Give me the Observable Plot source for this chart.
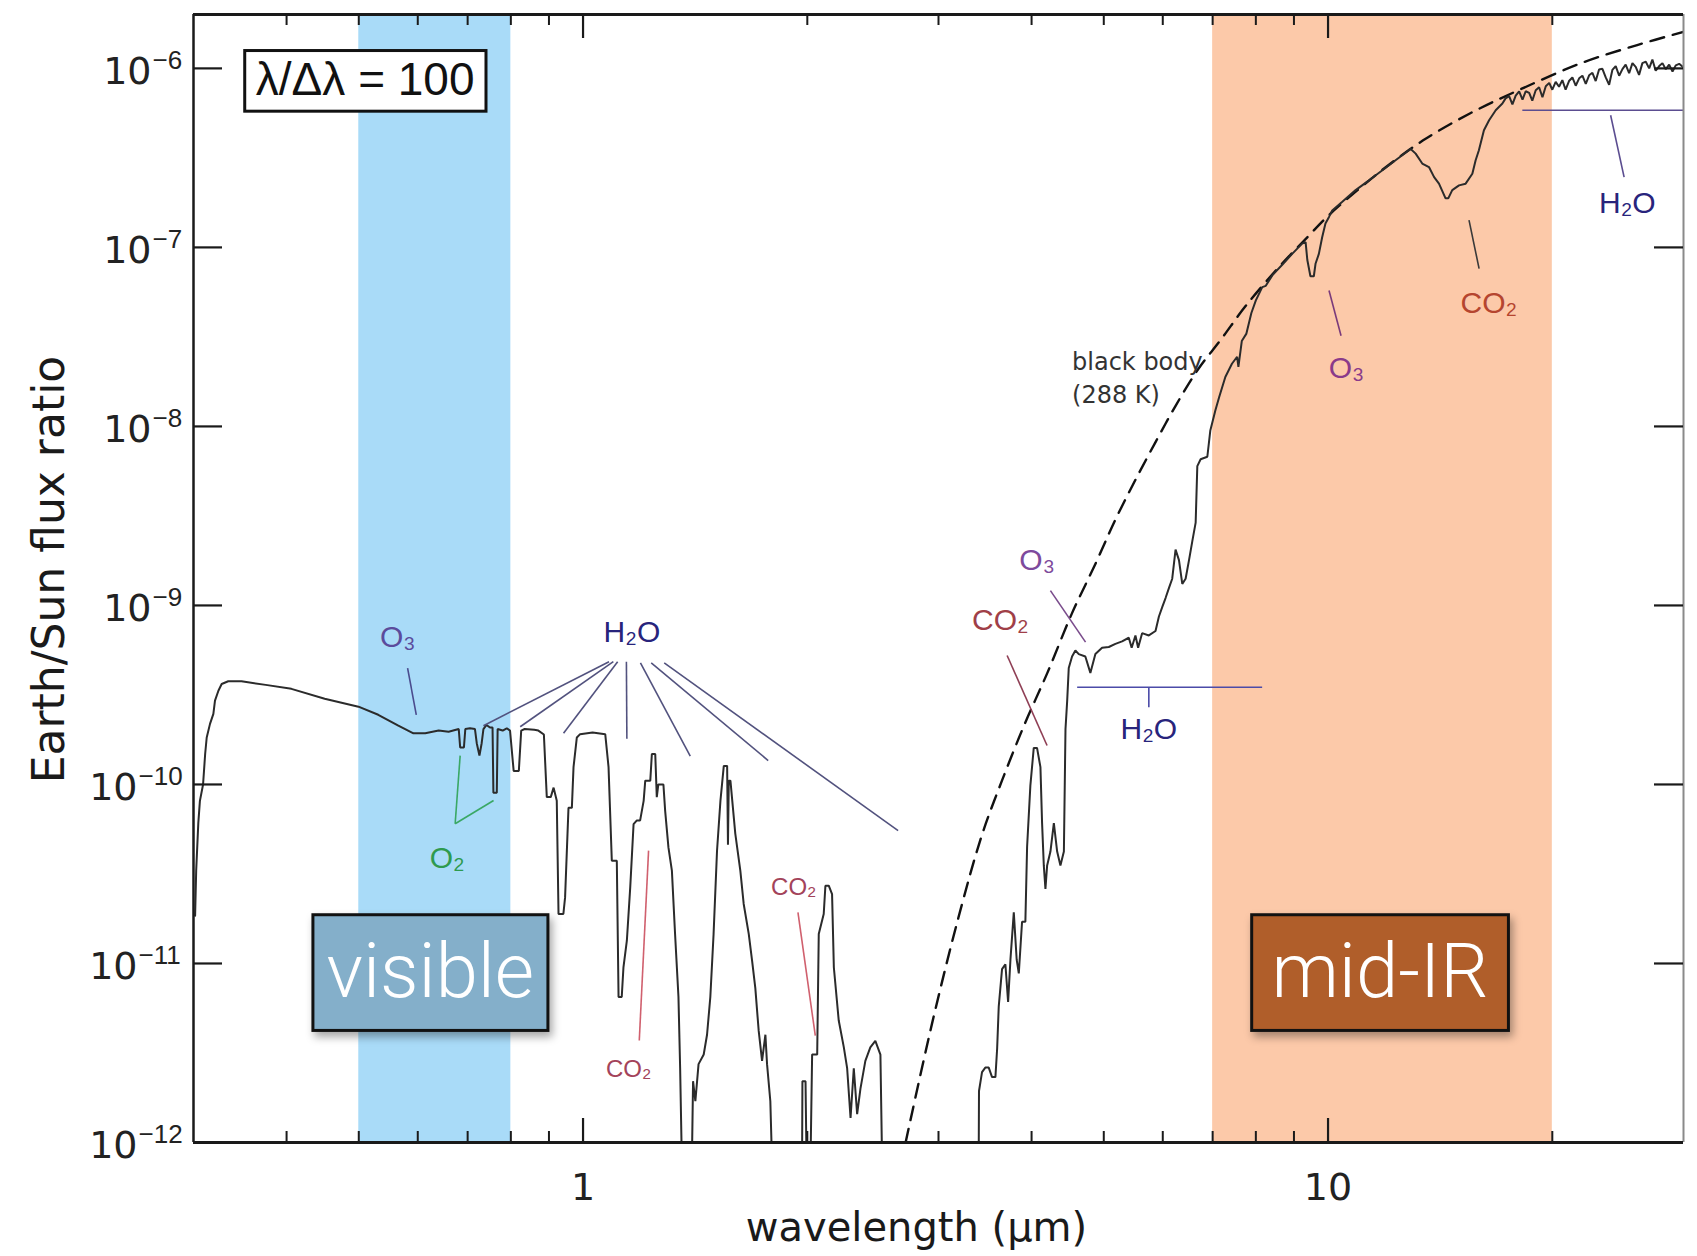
<!DOCTYPE html>
<html>
<head>
<meta charset="utf-8">
<script src="https://cdn.jsdelivr.net/npm/d3@7"></script>
<script src="https://cdn.jsdelivr.net/npm/@observablehq/plot@0.6"></script>
<style>
  html, body { margin: 0; padding: 0; background: #ffffff; }
  #chart svg { display: block; }
</style>
</head>
<body>
<div id="chart"></div>
<script>
// ---------------- DATA ----------------
// Earth/Sun flux ratio spectrum at λ/Δλ = 100 : [wavelength (µm), ratio]
const spectrum = [
  [0.3015,1.85e-11],[0.3025,3.3e-11],[0.3045,6.1e-11],[0.306,8.1e-11],[0.309,1.0e-10],[0.311,1.48e-10],
  [0.3125,1.83e-10],[0.3157,2.18e-10],[0.319,2.48e-10],[0.3206,2.94e-10],[0.324,3.34e-10],[0.3273,3.64e-10],
  [0.334,3.77e-10],[0.348,3.77e-10],[0.375,3.6e-10],[0.406,3.42e-10],[0.450,3.01e-10],[0.4995,2.72e-10],
  [0.531,2.45e-10],[0.565,2.13e-10],[0.592,1.93e-10],[0.614,1.93e-10],[0.640,2.0e-10],[0.660,1.97e-10],
  [0.681,2.04e-10],[0.684,1.61e-10],[0.692,1.61e-10],[0.695,2.04e-10],[0.705,2.06e-10],[0.716,2.04e-10],
  [0.720,1.7e-10],[0.726,1.45e-10],[0.731,1.7e-10],[0.735,2.04e-10],[0.742,2.15e-10],[0.750,2.08e-10],
  [0.756,2.08e-10],[0.758,9.0e-11],[0.766,9.0e-11],[0.768,2.04e-10],[0.780,2.0e-10],[0.790,2.06e-10],
  [0.798,2.0e-10],[0.807,1.19e-10],[0.820,1.19e-10],[0.826,2.0e-10],[0.835,2.04e-10],[0.860,2.02e-10],
  [0.871,2.0e-10],[0.886,1.9e-10],[0.894,8.5e-11],[0.905,8.5e-11],[0.913,9.6e-11],[0.922,8.1e-11],
  [0.927,1.89e-11],[0.941,1.89e-11],[0.946,2.34e-11],[0.956,7.4e-11],[0.966,7.4e-11],[0.971,1.25e-10],
  [0.981,1.83e-10],[0.991,1.91e-10],[1.030,1.95e-10],[1.071,1.91e-10],[1.082,1.25e-10],[1.093,3.75e-11],
  [1.110,3.75e-11],[1.116,6.5e-12],[1.127,6.5e-12],[1.133,9.5e-12],[1.145,1.34e-11],[1.157,2.66e-11],
  [1.169,6.0e-11],[1.181,6.3e-11],[1.193,6.3e-11],[1.206,8.1e-11],[1.212,1.05e-10],[1.231,1.05e-10],
  [1.237,1.48e-10],[1.250,1.48e-10],[1.256,8.5e-11],[1.262,1.0e-10],[1.282,1.0e-10],[1.289,7.1e-11],
  [1.302,4.45e-11],[1.316,3.3e-11],[1.329,1.46e-11],[1.343,6.5e-12],[1.350,2.6e-12],[1.357,8e-13],
  [1.400,8e-13],[1.405,2.2e-12],[1.415,1.7e-12],[1.429,2.74e-12],[1.452,3.1e-12],[1.467,4.0e-12],
  [1.482,6.5e-12],[1.497,1.46e-11],[1.513,4.26e-11],[1.529,8.1e-11],[1.545,1.27e-10],[1.561,1.27e-10],
  [1.565,4.6e-11],[1.569,1.05e-10],[1.577,1.05e-10],[1.601,5.3e-11],[1.626,3.3e-11],[1.643,2.15e-11],
  [1.669,1.46e-11],[1.686,1.04e-11],[1.703,7.3e-12],[1.721,4.2e-12],[1.739,2.86e-12],[1.757,4.0e-12],
  [1.766,2.74e-12],[1.784,1.7e-12],[1.793,8e-13],[1.968,8e-13],[1.970,2.2e-12],[1.989,2.2e-12],
  [1.995,8e-13],[2.020,8e-13],[2.030,3.1e-12],[2.062,3.1e-12],[2.072,1.46e-11],[2.104,1.89e-11],
  [2.115,2.72e-11],[2.137,2.72e-11],[2.159,2.44e-11],[2.171,9.5e-12],[2.204,4.8e-12],[2.239,3.4e-12],
  [2.262,2.6e-12],[2.286,1.37e-12],[2.309,2.6e-12],[2.333,1.44e-12],[2.357,2.0e-12],[2.393,2.86e-12],
  [2.430,3.4e-12],[2.468,3.7e-12],[2.507,3.1e-12],[2.520,8e-13],[3.397,8e-13],[3.400,1.94e-12],
  [3.432,2.47e-12],[3.467,2.62e-12],[3.504,2.62e-12],[3.540,2.32e-12],[3.577,2.32e-12],[3.596,3.34e-12],
  [3.614,5.76e-12],[3.651,9.3e-12],[3.689,9.9e-12],[3.720,6.1e-12],[3.747,1.05e-11],[3.786,1.93e-11],
  [3.820,1.05e-11],[3.845,8.8e-12],[3.884,1.71e-11],[3.924,1.71e-11],[3.945,4.49e-11],[3.985,9.85e-11],
  [4.027,1.60e-10],[4.068,1.60e-10],[4.111,1.25e-10],[4.132,6.08e-11],[4.154,3.53e-11],[4.175,2.61e-11],
  [4.197,3.53e-11],[4.240,4.22e-11],[4.285,6.08e-11],[4.329,4.22e-11],[4.373,3.53e-11],[4.420,4.22e-11],
  [4.442,2.04e-10],[4.465,2.92e-10],[4.487,4.47e-10],[4.533,5.19e-10],[4.580,5.6e-10],[4.628,5.35e-10],
  [4.723,5.19e-10],[4.797,4.2e-10],[4.872,5.35e-10],[4.974,5.8e-10],[5.078,5.86e-10],[5.183,6.1e-10],
  [5.291,6.3e-10],[5.402,6.6e-10],[5.450,5.8e-10],[5.514,6.8e-10],[5.560,5.8e-10],[5.629,7.0e-10],
  [5.747,6.8e-10],[5.867,7.2e-10],[5.929,8.67e-10],[5.990,9.78e-10],[6.052,1.10e-9],[6.115,1.25e-9],
  [6.178,1.41e-9],[6.242,2.05e-9],[6.308,1.79e-9],[6.373,1.32e-9],[6.439,1.41e-9],[6.507,1.79e-9],
  [6.573,2.28e-9],[6.642,2.9e-9],[6.676,6.0e-9],[6.745,6.56e-9],[6.886,6.77e-9],[6.950,9.5e-9],
  [7.060,1.23e-8],[7.140,1.45e-8],[7.280,1.89e-8],[7.430,2.24e-8],[7.550,2.45e-8],[7.580,2.15e-8],
  [7.660,3.0e-8],[7.770,3.3e-8],[7.890,4.3e-8],[8.000,5.06e-8],[8.160,6.0e-8],[8.250,6.1e-8],
  [8.420,7.0e-8],[8.680,8.0e-8],[8.950,9.2e-8],[9.230,1.05e-7],[9.330,1.07e-7],[9.380,8.5e-8],
  [9.470,6.9e-8],[9.570,6.9e-8],[9.620,8.1e-8],[9.720,9.2e-8],[9.820,1.14e-7],[9.920,1.36e-7],
  [10.03,1.48e-7],[10.13,1.61e-7],[10.45,1.80e-7],[10.89,2.09e-7],[11.35,2.37e-7],[11.83,2.70e-7],
  [12.32,3.07e-7],[12.84,3.49e-7],[12.90,3.56e-7],[13.11,3.34e-7],[13.38,2.94e-7],[13.66,2.81e-7],
  [13.88,2.47e-7],[14.09,2.27e-7],[14.38,1.88e-7],[14.50,1.88e-7],[14.68,2.09e-7],[14.99,2.22e-7],
  [15.30,2.27e-7],[15.62,2.58e-7],[15.78,3.07e-7],[15.94,3.49e-7],[16.19,4.51e-7],[16.45,5.13e-7],
  [16.79,5.84e-7],[17.14,6.36e-7],[17.31,6.80e-7],[17.50,7.00e-7],[17.68,6.30e-7],[17.86,7.05e-7],
  [18.05,7.45e-7],[18.24,6.70e-7],[18.42,7.45e-7],[18.62,7.30e-7],[18.80,6.60e-7],[19.00,7.55e-7],
  [19.20,7.85e-7],[19.40,6.90e-7],[19.60,7.95e-7],[19.81,8.30e-7],[20.00,7.60e-7],[20.21,8.40e-7],
  [20.42,7.90e-7],[20.63,8.60e-7],[20.84,7.60e-7],[21.06,8.50e-7],[21.28,8.90e-7],[21.50,8.00e-7],
  [21.73,8.80e-7],[21.95,9.10e-7],[22.18,8.20e-7],[22.41,9.15e-7],[22.64,9.45e-7],[22.87,8.50e-7],
  [23.11,9.85e-7],[23.35,9.95e-7],[23.59,8.90e-7],[23.84,8.10e-7],[24.08,9.80e-7],[24.33,1.03e-6],
  [24.59,9.10e-7],[24.84,9.90e-7],[25.09,1.05e-6],[25.36,9.40e-7],[25.62,1.07e-6],[25.88,1.02e-6],
  [26.15,9.20e-7],[26.42,1.07e-6],[26.70,1.09e-6],[26.98,1.00e-6],[27.25,1.12e-6],[27.53,9.70e-7],
  [27.83,1.03e-6],[28.11,1.07e-6],[28.40,9.90e-7],[28.70,1.05e-6],[29.00,9.60e-7],[29.29,1.04e-6],
  [29.60,1.06e-6],[30.00,1.01e-6]
];

// 288 K black body (dashed curve) : [wavelength (µm), ratio]
const blackBody = [
  [2.71,1.0e-12],[2.94,4.6e-12],[3.19,1.8e-11],[3.43,5.2e-11],[3.65,1.05e-10],[3.92,2.2e-10],
  [4.20,4.2e-10],[4.53,9.0e-10],[4.87,1.7e-9],[5.18,3.0e-9],[5.51,5.0e-9],[5.87,8.2e-9],
  [6.24,1.3e-8],[6.70,2.1e-8],[7.20,3.1e-8],[7.75,4.7e-8],[8.60,7.8e-8],[9.40,1.15e-7],
  [10.0,1.5e-7],[11.0,2.12e-7],[12.0,2.84e-7],[13.4,3.95e-7],[15.5,5.6e-7],[18.2,7.7e-7],
  [22.0,1.08e-6],[26.0,1.35e-6],[30.0,1.6e-6]
];

// axes
const yTickValues = [1e-12, 1e-11, 1e-10, 1e-9, 1e-8, 1e-7, 1e-6];
const yTickExponents = ["−12", "−11", "−10", "−9", "−8", "−7", "−6"];
const xMajorTicks = [1, 10];
const xTickLabels = ["1", "10"];
const xMinorTicks = [0.4, 0.5, 0.6, 0.7, 0.8, 0.9, 2, 3, 4, 5, 6, 7, 8, 9, 20];
const xTitle = "wavelength (μm)";
const yTitle = "Earth/Sun flux ratio";

// spectral windows
const bandNames = ["visible", "mid-IR"];
const bandStart = [0.5, 7];
const bandEnd = [0.8, 20];
// window label boxes (data space)
const bandBoxX1 = [0.4346, 7.91];
const bandBoxX2 = [0.8985, 17.49];
const bandBoxY1 = [4.2e-12, 4.2e-12];
const bandBoxY2 = [1.86e-11, 1.86e-11];
const bandTextX = [0.6237, 11.74];
const bandTextY = [8.9e-12, 8.9e-12];

// resolution box
const resolutionText = "λ/Δλ = 100";
const resolutionBox = {x1: 0.352, x2: 0.742, y1: 5.73e-7, y2: 1.25e-6, x: 0.510, y: 8.6e-7};

// molecule labels
const moleculeNames = ["O₃", "O₂", "H₂O", "CO₂", "CO₂", "O₃", "CO₂", "H₂O", "O₃", "CO₂", "H₂O"];
const moleculeX = [0.564, 0.657, 1.163, 1.151, 1.918, 4.069, 3.633, 5.747, 10.585, 16.44, 25.22];
const moleculeY = [6.67e-10, 3.84e-11, 7.06e-10, 2.58e-12, 2.67e-11, 1.78e-9, 8.24e-10, 2.04e-10, 2.11e-8, 4.85e-8, 1.76e-7];

// leader lines: molecule, from (x1,y1) to (x2,y2)
const leaderMolecule = ["O3","O2","O2","H2O","H2O","H2O","H2O","H2O","H2O","H2O","CO2s","CO2s","O3b","CO2a","H2Ob","H2Ob","O3c","CO2c","H2Oc","H2Oc"];
const leaderX1 = [0.5814,0.6735,0.6735,1.0836,1.0982,1.1129,1.1434,1.1941,1.2346,1.2851,1.1898,1.943,4.240,3.709,4.605,5.747,10.03,15.46,18.23,23.95];
const leaderY1 = [4.46e-10,6.03e-11,6.03e-11,4.85e-10,4.85e-10,4.85e-10,4.85e-10,4.78e-10,4.78e-10,4.78e-10,3.71e-12,1.93e-11,1.21e-9,5.25e-10,3.49e-10,3.49e-10,5.75e-8,1.42e-7,5.84e-7,5.47e-7];
const leaderX2 = [0.5973,0.684,0.7584,0.7350,0.8235,0.9415,1.1451,1.3929,1.7722,2.648,1.2245,2.050,4.726,4.196,8.157,5.747,10.41,15.95,30.0,24.97];
const leaderY2 = [2.45e-10,1.45e-10,8.13e-11,2.13e-10,2.10e-10,1.93e-10,1.80e-10,1.44e-10,1.36e-10,5.52e-11,4.27e-11,3.95e-12,6.24e-10,1.65e-10,3.49e-10,2.70e-10,3.21e-8,7.61e-8,5.84e-7,2.47e-7];

// black body label
const blackBodyText = ["black body", "(288 K)"];
const blackBodyTextX = [4.533, 4.533];
const blackBodyTextY = [2.29e-8, 1.49e-8];

// ---------------- STYLES ----------------
const W = 1697, H = 1256, ML = 193, MR = 14, MT = 14, MB = 114;
const PW = W - ML - MR, PH = H - MT - MB;
const SANS = "Liberation Sans, Arial, Helvetica, sans-serif";
const WIDE = "DejaVu Sans, Verdana, sans-serif";
const LIGHT = "Roboto, Lato, Liberation Sans, sans-serif";
const bandFill = {"visible": "#a9dbf8", "mid-IR": "#fcc9a9"};
const bandBoxFill = {"visible": "#84afca", "mid-IR": "#b05e2a"};
const moleculeColor = ["#5b4b9c", "#2e9a4f", "#28247c", "#a3435a", "#a3435a", "#7e4a9c", "#a03f48", "#28247c", "#8a3a8a", "#b5452f", "#28247c"];
const leaderColor = {O3: "#4b4c8e", O2: "#3aa865", H2O: "#52527e", CO2s: "#d0606e", O3b: "#7a4c8c", CO2a: "#8f3f55", H2Ob: "#4b4ba8", O3c: "#7a3a7a", CO2c: "#3a3a3a", H2Oc: "#5b4d90"};

// ---------------- TABLES ----------------
const bands = bandNames.map((n, i) => ({name: n, x1: bandStart[i], x2: bandEnd[i], bx1: bandBoxX1[i], bx2: bandBoxX2[i], by1: bandBoxY1[i], by2: bandBoxY2[i], tx: bandTextX[i], ty: bandTextY[i]}));
const molecules = moleculeNames.map((n, i) => ({name: n, x: moleculeX[i], y: moleculeY[i], color: moleculeColor[i], small: i === 3 || i === 4}));
const leaders = leaderMolecule.map((m, i) => ({m, x1: leaderX1[i], y1: leaderY1[i], x2: leaderX2[i], y2: leaderY2[i]}));
const yTicks = yTickValues.map((v, i) => ({v, e: yTickExponents[i]}));
const bbLabels = blackBodyText.map((t, i) => ({t, x: blackBodyTextX[i], y: blackBodyTextY[i]}));

const chart = Plot.plot({
  width: W, height: H,
  marginLeft: ML, marginRight: MR, marginTop: MT, marginBottom: MB,
  style: {background: "#ffffff", fontFamily: SANS},
  x: {type: "log", domain: [0.3, 30], axis: null},
  y: {type: "log", domain: [1e-12, 2e-6], axis: null},
  marks: [
    // spectral windows
    Plot.rect(bands, {x1: "x1", x2: "x2", y1: 1e-12, y2: 2e-6, fill: d => bandFill[d.name]}),
    // black body
    Plot.line(blackBody, {x: d => d[0], y: d => d[1], curve: "catmull-rom", stroke: "#111", strokeWidth: 2.4, strokeDasharray: "14,9", clip: true}),
    // spectrum
    Plot.line(spectrum, {x: d => d[0], y: d => d[1], stroke: "#2b2b2b", strokeWidth: 2, strokeLinejoin: "miter", clip: true}),
    // leader lines
    Plot.link(leaders, {x1: "x1", y1: "y1", x2: "x2", y2: "y2", stroke: d => leaderColor[d.m], strokeWidth: 1.6}),
    // molecule labels
    Plot.text(molecules.filter(d => !d.small), {x: "x", y: "y", text: "name", fill: "color", fontSize: 30, fontFamily: SANS}),
    Plot.text(molecules.filter(d => d.small), {x: "x", y: "y", text: "name", fill: "color", fontSize: 24, fontFamily: SANS}),
    Plot.text(bbLabels, {x: "x", y: "y", text: "t", textAnchor: "start", fill: "#333", fontSize: 24, fontFamily: WIDE}),
    // resolution box
    Plot.rect([resolutionBox], {x1: "x1", x2: "x2", y1: "y1", y2: "y2", fill: "#fff", stroke: "#111", strokeWidth: 3}),
    Plot.text([resolutionBox], {x: "x", y: "y", text: () => resolutionText, fill: "#111", fontSize: 46, fontFamily: SANS}),
    // window label boxes
    Plot.rect(bands, {x1: "bx1", x2: "bx2", y1: "by1", y2: "by2", fill: d => bandBoxFill[d.name], stroke: "#111", strokeWidth: 3}),
    Plot.text(bands, {x: "tx", y: "ty", text: "name", fill: "#fff", fontSize: 76, fontWeight: 300, fontFamily: LIGHT}),
    // frame
    Plot.ruleX([30], {stroke: "#8a8a8a", strokeWidth: 2}),
    Plot.ruleX([0.3], {stroke: "#1a1a1a", strokeWidth: 2.5}),
    Plot.ruleY([1e-12, 2e-6], {stroke: "#1a1a1a", strokeWidth: 3}),
    // inward ticks
    Plot.tickY(yTickValues, {y: d => d, insetRight: PW - 29, stroke: "#1a1a1a", strokeWidth: 2.2}),
    Plot.tickY(yTickValues, {y: d => d, insetLeft: PW - 29, stroke: "#1a1a1a", strokeWidth: 2.2}),
    Plot.tickX(xMinorTicks, {x: d => d, insetTop: PH - 11, stroke: "#1a1a1a", strokeWidth: 2}),
    Plot.tickX(xMinorTicks, {x: d => d, insetBottom: PH - 11, stroke: "#1a1a1a", strokeWidth: 2}),
    Plot.tickX(xMajorTicks, {x: d => d, insetTop: PH - 24, stroke: "#1a1a1a", strokeWidth: 2.2}),
    Plot.tickX(xMajorTicks, {x: d => d, insetBottom: PH - 24, stroke: "#1a1a1a", strokeWidth: 2.2}),
    // y tick labels: 10 with superscript exponent
    Plot.text(yTicks.filter(d => d.e.length > 2), {y: "v", frameAnchor: "left", text: () => "10", textAnchor: "end", lineAnchor: "middle", dx: -56, dy: 3, fontSize: 38, fill: "#222", fontFamily: WIDE}),
    Plot.text(yTicks.filter(d => d.e.length <= 2), {y: "v", frameAnchor: "left", text: () => "10", textAnchor: "end", lineAnchor: "middle", dx: -42, dy: 3, fontSize: 38, fill: "#222", fontFamily: WIDE}),
    Plot.text(yTicks.filter(d => d.e.length > 2), {y: "v", frameAnchor: "left", text: "e", textAnchor: "start", lineAnchor: "middle", dx: -55, dy: -8, fontSize: 26, fill: "#222", fontFamily: SANS}),
    Plot.text(yTicks.filter(d => d.e.length <= 2), {y: "v", frameAnchor: "left", text: "e", textAnchor: "start", lineAnchor: "middle", dx: -41, dy: -8, fontSize: 26, fill: "#222", fontFamily: SANS}),
    // x tick labels
    Plot.text(xMajorTicks, {x: d => d, frameAnchor: "bottom", text: (d, i) => xTickLabels[i], lineAnchor: "middle", dy: 45, fontSize: 38, fill: "#222", fontFamily: WIDE}),
    // axis titles
    Plot.text([xTitle], {frameAnchor: "bottom", text: d => d, textAnchor: "middle", lineAnchor: "middle", dx: -22, dy: 86, fontSize: 40, fill: "#1a1a1a", fontFamily: WIDE}),
    Plot.text([yTitle], {frameAnchor: "left", text: d => d, rotate: -90, textAnchor: "middle", lineAnchor: "middle", dx: -144, dy: -9, fontSize: 44, fill: "#1a1a1a", fontFamily: WIDE})
  ]
});

// soft drop shadow on the window label boxes
d3.select(chart).selectAll("rect").each(function () {
  const f = (this.getAttribute("fill") || "").toLowerCase();
  if (f === "#84afca" || f === "#b05e2a") this.style.filter = "drop-shadow(3px 5px 4px rgba(0,0,0,0.35))";
});

document.getElementById("chart").appendChild(chart);
</script>
</body>
</html>
